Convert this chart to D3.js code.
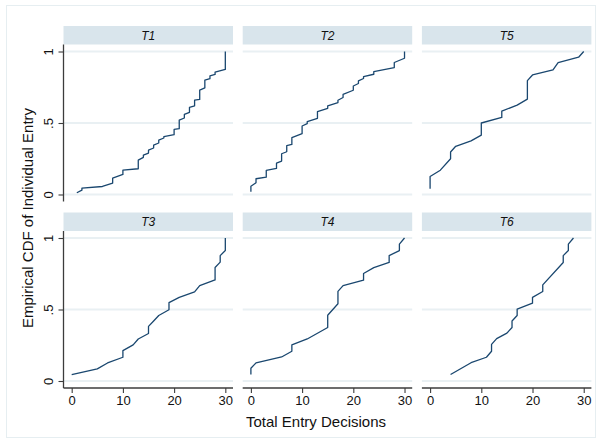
<!DOCTYPE html>
<html>
<head>
<meta charset="utf-8">
<script src="https://cdn.jsdelivr.net/npm/d3@7"></script>
<style>
  html, body { margin: 0; padding: 0; background: #ffffff; }
  svg { display: block; font-family: "Liberation Sans", Arial, sans-serif; }
</style>
</head>
<body>
<svg id="chart" width="601" height="442"></svg>
<script>
// Panel order (row by row) and their treatment names
const panelNames = ["T1", "T2", "T5", "T3", "T4", "T6"];

// Empirical CDF vertices per treatment: distinct entry totals, with the
// cumulative share at the first and at the last observation of each total
const t1X  = [1, 2, 6, 8, 10, 13, 14, 15, 16, 17, 18, 20, 21, 22, 23, 24, 25, 26, 27, 28, 30];
const t1Lo = [0.012, 0.03, 0.056, 0.08, 0.14, 0.18, 0.26, 0.29, 0.325, 0.36, 0.395, 0.418, 0.46, 0.535, 0.575, 0.62, 0.665, 0.745, 0.81, 0.84, 0.875];
const t1Hi = [0.012, 0.045, 0.056, 0.115, 0.17, 0.24, 0.275, 0.31, 0.345, 0.38, 0.405, 0.455, 0.52, 0.56, 0.61, 0.66, 0.73, 0.80, 0.83, 0.855, 1.0];

const t2X  = [0, 1, 3, 5, 6, 7, 8, 10, 11, 13, 15, 17, 18, 20, 21, 22, 24, 28, 30];
const t2Lo = [0.019, 0.082, 0.121, 0.182, 0.234, 0.299, 0.35, 0.425, 0.495, 0.533, 0.603, 0.643, 0.678, 0.729, 0.776, 0.811, 0.841, 0.888, 0.953];
const t2Hi = [0.058, 0.11, 0.168, 0.22, 0.285, 0.341, 0.397, 0.479, 0.509, 0.579, 0.619, 0.659, 0.70, 0.759, 0.794, 0.825, 0.86, 0.923, 1.0];

const t5X  = [0, 2, 4, 5, 8, 10, 14, 17, 19, 20, 24, 25, 29, 30];
const t5Lo = [0.04, 0.17, 0.25, 0.337, 0.375, 0.415, 0.539, 0.625, 0.667, 0.836, 0.871, 0.923, 0.96, 1.0];
const t5Hi = [0.126, 0.17, 0.297, 0.337, 0.375, 0.50, 0.583, 0.625, 0.796, 0.836, 0.871, 0.923, 0.96, 1.0];

const t3X  = [0, 5, 7, 10, 12, 13, 15, 16, 17, 19, 21, 24, 25, 28, 29, 30];
const t3Lo = [0.045, 0.085, 0.126, 0.166, 0.253, 0.294, 0.332, 0.42, 0.458, 0.498, 0.585, 0.623, 0.667, 0.707, 0.831, 0.913];
const t3Hi = [0.045, 0.085, 0.126, 0.212, 0.253, 0.294, 0.382, 0.42, 0.458, 0.548, 0.585, 0.623, 0.667, 0.794, 0.877, 1.0];

const t4X  = [0, 1, 6, 8, 11, 15, 17, 18, 22, 24, 27, 29, 30];
const t4Lo = [0.045, 0.127, 0.168, 0.208, 0.294, 0.374, 0.54, 0.667, 0.705, 0.793, 0.829, 0.912, 1.0];
const t4Hi = [0.089, 0.127, 0.168, 0.253, 0.294, 0.46, 0.627, 0.667, 0.752, 0.793, 0.877, 0.957, 1.0];

const t6X  = [4, 8, 11, 12, 13, 15, 16, 17, 20, 22, 26, 27, 28];
const t6Lo = [0.045, 0.128, 0.166, 0.208, 0.296, 0.335, 0.374, 0.458, 0.544, 0.626, 0.829, 0.912, 1.0];
const t6Hi = [0.045, 0.128, 0.166, 0.256, 0.296, 0.335, 0.42, 0.502, 0.585, 0.672, 0.877, 0.957, 1.0];

// Axis ticks and labels
const xTicks = [0, 10, 20, 30];
const yTicks = [0, 0.5, 1];
const yTickLabels = ["0", ".5", "1"];

const xTitle = "Total Entry Decisions";
const yTitle = "Empirical CDF of Individual Entry";

// Assemble the series used for drawing
const seriesX  = [t1X, t2X, t5X, t3X, t4X, t6X];
const seriesLo = [t1Lo, t2Lo, t5Lo, t3Lo, t4Lo, t6Lo];
const seriesHi = [t1Hi, t2Hi, t5Hi, t3Hi, t4Hi, t6Hi];

function stepPoints(xs, lo, hi) {
  const pts = [];
  xs.forEach((x, i) => {
    pts.push([x, lo[i]]);
    if (hi[i] !== lo[i]) pts.push([x, hi[i]]);
  });
  return pts;
}

// Layout
const colLeft = [63.5, 242.7, 421.9];
const plotW = 169.5;
const stripTop = [26, 212.5];
const stripH = 18.5;
const plotH = 157;

const lineColor = "#1a476f";
const gridColor = "#e9f0f3";
const stripColor = "#d9e5ec";
const axisColor = "#3c3c3c";

const svg = d3.select("#chart");

// Outer frame of the graph region
svg.append("rect")
  .attr("x", 6.5).attr("y", 5.5)
  .attr("width", 589).attr("height", 432)
  .attr("fill", "#ffffff")
  .attr("stroke", "#e6eef1")
  .attr("stroke-width", 1);

panelNames.forEach((name, i) => {
  const row = Math.floor(i / 3);
  const col = i % 3;
  const left = colLeft[col];
  const sTop = stripTop[row];
  const pTop = sTop + stripH;

  const x = d3.scaleLinear().domain([-1.6, 31.5]).range([left, left + plotW]);
  const y = d3.scaleLinear().domain([-0.049, 1.049]).range([pTop + plotH, pTop]);

  const g = svg.append("g");

  // Strip with treatment name
  g.append("rect")
    .attr("x", left).attr("y", sTop)
    .attr("width", plotW).attr("height", stripH)
    .attr("fill", stripColor);
  g.append("text")
    .attr("x", left + plotW / 2)
    .attr("y", sTop + stripH / 2 + 4.3)
    .attr("text-anchor", "middle")
    .attr("font-size", 12)
    .attr("font-style", "italic")
    .attr("fill", "#111")
    .text(name);

  // Horizontal grid lines
  g.selectAll("line.grid")
    .data(yTicks)
    .join("line")
    .attr("class", "grid")
    .attr("x1", left).attr("x2", left + plotW)
    .attr("y1", d => y(d)).attr("y2", d => y(d))
    .attr("stroke", gridColor)
    .attr("stroke-width", 2);

  // ECDF line
  const pts = stepPoints(seriesX[i], seriesLo[i], seriesHi[i]);
  g.append("path")
    .datum(pts)
    .attr("fill", "none")
    .attr("stroke", lineColor)
    .attr("stroke-width", 1.3)
    .attr("stroke-linejoin", "round")
    .attr("d", d3.line().x(d => x(d[0])).y(d => y(d[1])));

  // Y axis on the left column
  if (col === 0) {
    const ay = g.append("g")
      .attr("transform", `translate(${left},0)`)
      .call(d3.axisLeft(y).tickValues(yTicks)
        .tickFormat((d, k) => yTickLabels[k]).tickSize(5).tickSizeOuter(0));
    ay.select(".domain")
      .attr("d", `M0,${pTop}V${pTop + plotH}`)
      .attr("stroke", axisColor).attr("stroke-width", 1.3);
    ay.selectAll(".tick line").attr("stroke", axisColor).attr("stroke-width", 1.1);
    ay.selectAll(".tick text")
      .attr("transform", "rotate(-90)")
      .attr("x", 0).attr("y", -10.5).attr("dy", 0)
      .attr("text-anchor", "middle")
      .attr("font-size", 13)
      .attr("font-family", "Liberation Sans, Arial, sans-serif")
      .attr("fill", "#111");
  }

  // X axis on the bottom row
  if (row === 1) {
    const ax = g.append("g")
      .attr("transform", `translate(0,${pTop + plotH})`)
      .call(d3.axisBottom(x).tickValues(xTicks).tickSize(5).tickPadding(3).tickSizeOuter(0));
    ax.select(".domain")
      .attr("d", `M${left},0H${left + plotW}`)
      .attr("stroke", axisColor).attr("stroke-width", 1.3);
    ax.selectAll(".tick line").attr("stroke", axisColor).attr("stroke-width", 1.1);
    ax.selectAll(".tick text")
      .attr("font-size", 13)
      .attr("font-family", "Liberation Sans, Arial, sans-serif")
      .attr("fill", "#111");
  }
});

// Axis titles
svg.append("text")
  .attr("x", 316).attr("y", 426.5)
  .attr("text-anchor", "middle")
  .attr("font-size", 15)
  .attr("fill", "#111")
  .text(xTitle);

svg.append("text")
  .attr("transform", "translate(33,218) rotate(-90)")
  .attr("text-anchor", "middle")
  .attr("font-size", 15)
  .attr("fill", "#111")
  .text(yTitle);
</script>
</body>
</html>
